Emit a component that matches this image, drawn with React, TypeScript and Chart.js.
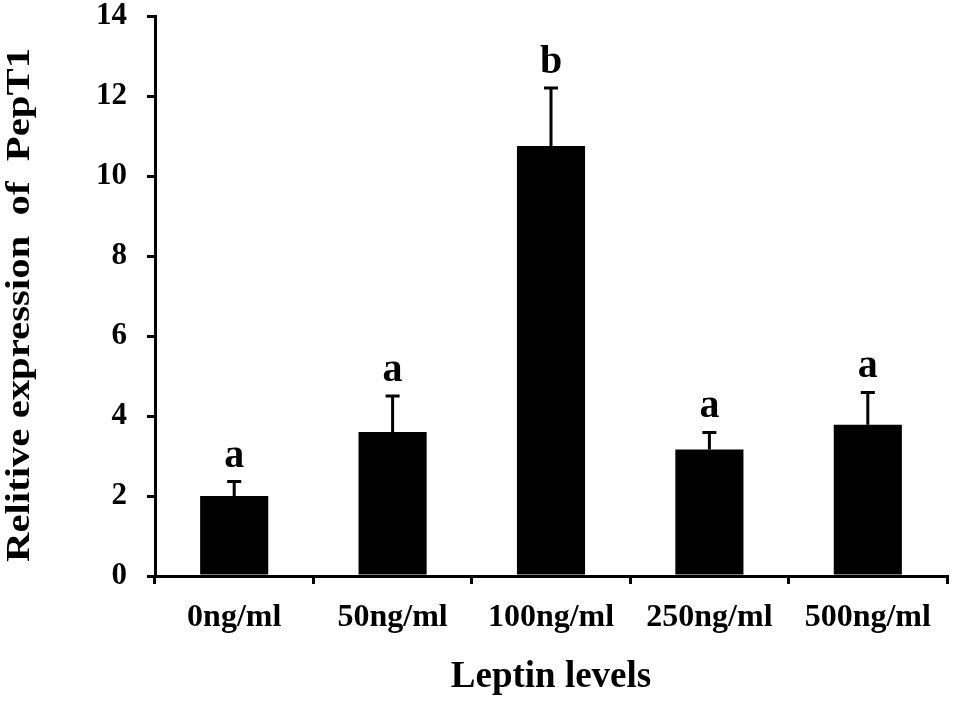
import React, { useEffect, useRef } from "react";
import { Chart, registerables } from "chart.js";

Chart.register(...registerables);

const categories = ["0ng/ml", "50ng/ml", "100ng/ml", "250ng/ml", "500ng/ml"];
const meanValues = [2.0, 3.6, 10.75, 3.16, 3.78];
const errorValues = [0.36, 0.9, 1.45, 0.43, 0.81];
const groupLetters = ["a", "a", "b", "a", "a"];
const yTitle = "Relitive expression  of  PepT1";
const xTitle = "Leptin levels";

const FONT_FAMILY = '"Liberation Serif", "Times New Roman", serif';

const errorBarPlugin = {
  id: "errorBars",
  afterDatasetsDraw(chart: any) {
    const ctx = chart.ctx;
    const meta = chart.getDatasetMeta(0);
    const yScale = chart.scales.y;
    ctx.save();
    ctx.strokeStyle = "#000";
    ctx.fillStyle = "#000";
    ctx.lineWidth = 3;
    meta.data.forEach((bar: any, i: number) => {
      const x = bar.x;
      const yBase = yScale.getPixelForValue(meanValues[i]);
      const yTop = yScale.getPixelForValue(meanValues[i] + errorValues[i]);
      ctx.beginPath();
      ctx.moveTo(x, yBase);
      ctx.lineTo(x, yTop);
      ctx.moveTo(x - 7, yTop);
      ctx.lineTo(x + 7, yTop);
      ctx.stroke();
      ctx.font = `bold 40px ${FONT_FAMILY}`;
      ctx.textAlign = "center";
      ctx.textBaseline = "alphabetic";
      ctx.fillText(groupLetters[i], x, yTop - 15);
    });
    ctx.restore();
  },
};

const yTitlePlugin = {
  id: "yTitle",
  afterDraw(chart: any) {
    const ctx = chart.ctx;
    ctx.save();
    ctx.font = `bold 34px ${FONT_FAMILY}`;
    ctx.fillStyle = "#000";
    ctx.textAlign = "center";
    ctx.textBaseline = "alphabetic";
    const w = ctx.measureText(yTitle).width;
    const target = 514;
    ctx.translate(29, 305);
    ctx.rotate(-Math.PI / 2);
    ctx.scale(target / w, 1);
    ctx.fillText(yTitle, 0, 0);
    ctx.restore();
  },
};

export default function App() {
  const canvasRef = useRef<HTMLCanvasElement | null>(null);

  useEffect(() => {
    if (!canvasRef.current) return;
    const chart = new Chart(canvasRef.current, {
      type: "bar",
      data: {
        labels: categories,
        datasets: [
          {
            data: meanValues,
            backgroundColor: "#000",
            borderWidth: 0,
            categoryPercentage: 1,
            barPercentage: 0.43,
          },
        ],
      },
      options: {
        responsive: false,
        animation: false,
        devicePixelRatio: 1,
        layout: { padding: { left: 0, right: 7, top: 16, bottom: 0 } },
        plugins: {
          legend: { display: false },
          tooltip: { enabled: false },
          title: { display: false },
        },
        scales: {
          x: {
            grid: {
              display: true,
              drawOnChartArea: false,
              drawTicks: true,
              tickLength: 8,
              color: "#000",
              lineWidth: 3,
              offset: true,
            },
            border: { display: true, color: "#000", width: 3 },
            ticks: {
              color: "#000",
              padding: 15,
              font: { family: FONT_FAMILY, size: 32, weight: "bold" },
              maxRotation: 0,
            },
            title: {
              display: true,
              text: xTitle,
              color: "#000",
              font: { family: FONT_FAMILY, size: 37, weight: "bold" },
              padding: { top: 0, bottom: 1 },
            },
            afterFit(scale: any) {
              scale.height = 125;
            },
          },
          y: {
            min: 0,
            max: 14,
            ticks: {
              stepSize: 2,
              color: "#000",
              padding: 20,
              font: { family: FONT_FAMILY, size: 31, weight: "bold", lineHeight: 1 },
            },
            grid: {
              display: true,
              drawOnChartArea: false,
              drawTicks: true,
              tickLength: 8,
              color: "#000",
              lineWidth: 3,
            },
            border: { display: true, color: "#000", width: 3 },
            title: { display: false },
            afterFit(scale: any) {
              scale.width = 155;
              scale.paddingTop = 0;
              scale.paddingBottom = 0;
            },
          },
        },
      },
      plugins: [errorBarPlugin, yTitlePlugin],
    });
    return () => chart.destroy();
  }, []);

  return (
    <div style={{ position: "fixed", left: 0, top: 0, width: 954, height: 701, background: "#fff" }}>
      <canvas ref={canvasRef} width={954} height={701} style={{ display: "block", width: 954, height: 701 }} />
    </div>
  );
}
